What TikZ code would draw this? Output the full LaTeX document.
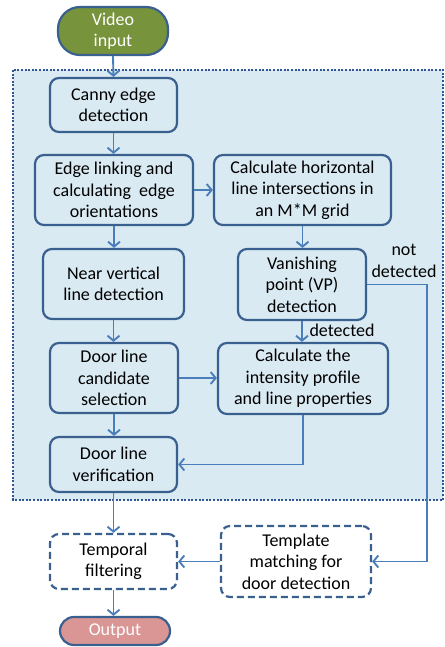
\documentclass[tikz,border=0pt]{standalone}
\usepackage{fontspec}
\setmainfont{Carlito}
\usetikzlibrary{positioning,arrows.meta}

\definecolor{boxline}{HTML}{3A6090}
\definecolor{flowline}{HTML}{4A7EBB}
\definecolor{regionfill}{HTML}{DAEAF3}
\definecolor{regionline}{HTML}{2F5597}
\definecolor{startgreen}{HTML}{77933C}
\definecolor{endpink}{HTML}{D99694}

\tikzset{
 stepbox/.style={draw=boxline, line width=2.2pt, rounded corners=9pt, fill=regionfill,
                 align=center, inner sep=0pt, font=\fontsize{18}{21.5}\selectfont},
 extbox/.style={stepbox, fill=white, dash pattern=on 7pt off 4pt},
 termbox/.style={stepbox, rounded corners=14pt, text=white},
 flow/.style={draw=flowline, line width=1.9pt, -{Straight Barb[length=5pt,width=12pt]}},
 lbl/.style={align=center, inner sep=0pt, font=\fontsize{18}{21.5}\selectfont}
}

\begin{document}
\begin{tikzpicture}[x=1pt,y=-1pt]
 \useasboundingbox (0,0) rectangle (444,647);
 % region of the door detector
 \fill[regionfill] (13,70) rectangle (443,500);
 \draw[regionline, line width=2.5pt, dash pattern=on 2pt off 1.6pt] (13,70) rectangle (443,500);

 \node[termbox,fill=startgreen,name=video,minimum width=110pt,minimum height=48pt, rounded corners=22pt] at (113,31) {Video\\input};
 \node[stepbox,name=canny,  minimum width=127pt,minimum height=54pt] at (113.5,105)   {Canny edge\\detection};
 \node[stepbox,name=link,   minimum width=158pt,minimum height=70pt] at (114,190)     {Edge linking and\\calculating\ \ edge\\orientations};
 \node[stepbox,name=horiz,  minimum width=177pt,minimum height=70pt] at (302.5,190)   {Calculate horizontal\\line intersections in\\an M*M grid};
 \node[stepbox,name=near,   minimum width=141pt,minimum height=70pt] at (113.5,284)   {Near vertical\\line detection};
 \node[stepbox,name=vp,     minimum width=128pt,minimum height=71pt] at (302,284.5)   {Vanishing\\point (VP)\\detection};
 \node[stepbox,name=cand,   minimum width=128pt,minimum height=70pt] at (114,378)     {Door line\\candidate\\selection};
 \node[stepbox,name=profile,minimum width=170pt,minimum height=71pt] at (303,378.5)   {Calculate the\\intensity profile\\and line properties};
 \node[stepbox,name=verif,  minimum width=127pt,minimum height=55pt] at (113.5,464.5) {Door line\\verification};
 \node[extbox, name=temporal,minimum width=127pt,minimum height=55pt] at (113.5,561.5) {Temporal\\filtering};
 \node[extbox, name=templ,  minimum width=150pt,minimum height=71pt] at (296,561.5)   {Template\\matching for\\door detection};
 \node[termbox,fill=endpink,name=output,minimum width=110pt,minimum height=28pt] at (115,631) {Output};

 \node[lbl,name=det]   at (342,330) {detected};
 \node[lbl,name=notdet] at (404,261) {not\\detected};
 \coordinate (turn) at (427,284.5);

 \draw[flow] (video.south)   -- (canny.north);
 \draw[flow] (canny.south)   -- (canny.south |- link.north);
 \draw[flow] (link.east)     -- (link.east -| horiz.west);
 \draw[flow] (link.south)    -- (link.south |- near.north);
 \draw[flow] (horiz.south)   -- (horiz.south |- vp.north);
 \draw[flow] (near.south)    -- (near.south |- cand.north);
 \draw[flow] (vp.south)      -- (vp.south |- profile.north);
 \draw[flow] (cand.east)     -- (cand.east -| profile.west);
 \draw[flow] (cand.south)    -- (cand.south |- verif.north);
 \draw[flow] (profile.south) |- (verif.east);
 \draw[flow] (vp.east)       -- (turn) |- (templ.east);
 \draw[flow] (verif.south)   -- (verif.south |- temporal.north);
 \draw[flow] (templ.west)    -- (templ.west -| temporal.east);
 \draw[flow] (temporal.south) -- (temporal.south |- output.north);
\end{tikzpicture}
\end{document}
